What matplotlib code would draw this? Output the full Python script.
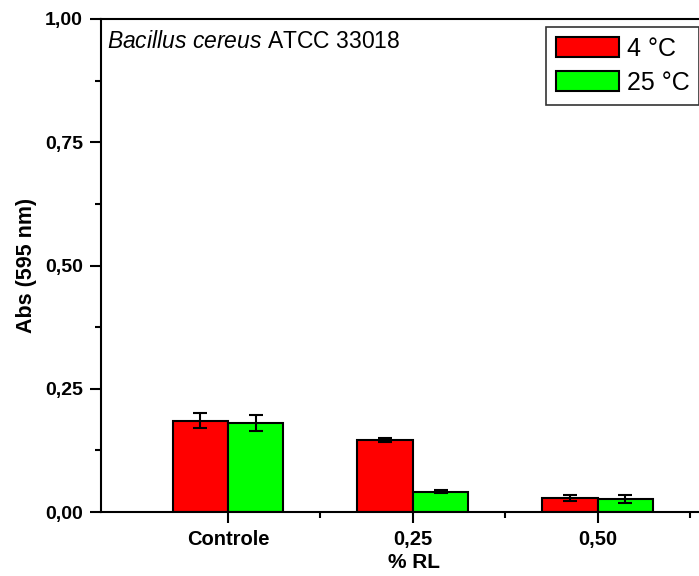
import numpy as np
import matplotlib.pyplot as plt
from matplotlib.ticker import MultipleLocator

plt.rcParams['font.family'] = ['Liberation Sans', 'DejaVu Sans']
plt.rcParams['mathtext.fontset'] = 'custom'
plt.rcParams['mathtext.rm'] = 'Liberation Sans'
plt.rcParams['mathtext.it'] = 'Liberation Sans:italic'

categories = ['Controle', '0,25', '0,50']
abs_4c = [0.185, 0.146, 0.028]
err_4c = [0.015, 0.005, 0.006]
abs_25c = [0.181, 0.041, 0.026]
err_25c = [0.016, 0.003, 0.008]
yticks = [0.0, 0.25, 0.50, 0.75, 1.00]
ytick_labels = ['0,00', '0,25', '0,50', '0,75', '1,00']

fig = plt.figure(figsize=(6.99, 5.76), dpi=100)
# axes run off the right edge, as in the original export
ax = fig.add_axes([101/699, 64/576, 626/699, 493/576])

x = np.arange(1, len(categories) + 1)
w = 0.3
err_kw = dict(ecolor='black', elinewidth=1.5, capsize=5, capthick=1.5)
ax.bar(x - w/2, abs_4c, w, yerr=err_4c, color='#ff0000', edgecolor='black',
       linewidth=1.5, label='4 °C', error_kw=err_kw)
ax.bar(x + w/2, abs_25c, w, yerr=err_25c, color='#00ff00', edgecolor='black',
       linewidth=1.5, label='25 °C', error_kw=err_kw)

ax.set_xlim(0.313, 3.7)
ax.set_ylim(0, 1.0)
ax.set_xticks(x)
ax.set_xticklabels(categories, fontsize=14.5, fontweight='bold')
ax.set_xticks(x + 0.5, minor=True)
ax.set_yticks(yticks)
ax.set_yticklabels(ytick_labels, fontsize=14, fontweight='bold')
ax.yaxis.set_minor_locator(MultipleLocator(0.125))
ax.tick_params(which='major', direction='out', length=8, width=1.5)
ax.tick_params(which='minor', direction='out', length=4, width=1.5)
ax.tick_params(axis='x', pad=5)
ax.tick_params(axis='y', pad=5)

for s in ax.spines.values():
    s.set_linewidth(1.5)
ax.spines['right'].set_visible(False)

ax.set_xlabel('% RL', fontsize=15, fontweight='bold', labelpad=3)
ax.set_ylabel('Abs (595 nm)', fontsize=15.5, fontweight='bold', labelpad=6)

ax.text(0.01, 0.977, r'$Bacillus\ cereus$ ATCC 33018', transform=ax.transAxes,
        fontsize=16.5, va='top', ha='left')

leg = ax.legend(loc='upper left', bbox_to_anchor=(0.711, 0.984), fontsize=18,
                frameon=True, fancybox=False, edgecolor='black', handlelength=2.5,
                handleheight=0.88, handletextpad=0.32, borderpad=0.4,
                labelspacing=0.4, borderaxespad=0)
leg.get_frame().set_linewidth(1.2)

fig.savefig('out.png', dpi=100)
